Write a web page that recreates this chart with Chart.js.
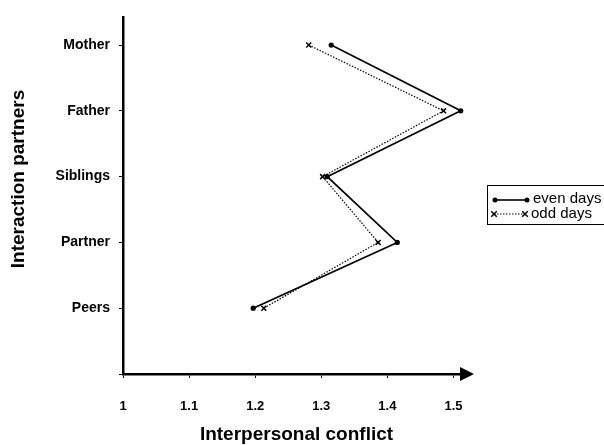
<!DOCTYPE html>
<html>
<head>
<meta charset="utf-8">
<script src="https://cdn.jsdelivr.net/npm/chart.js@4/dist/chart.umd.min.js"></script>
<style>
  html, body { margin: 0; padding: 0; background: #fff; }
  #wrap { width: 604px; height: 445px; }
</style>
</head>
<body>
<div id="wrap"><canvas id="conflictChart" width="604" height="445"></canvas></div>
<script>
// Data
const partners = ['Mother', 'Father', 'Siblings', 'Partner', 'Peers'];
const partnerPos = [5, 4, 3, 2, 1];
const evenDays = [1.315, 1.511, 1.309, 1.415, 1.197];
const oddDays = [1.281, 1.485, 1.302, 1.386, 1.213];
const xTicks = [1, 1.1, 1.2, 1.3, 1.4, 1.5];
const yTicks = [0, 1, 2, 3, 4, 5];

const FONT = '"Liberation Sans", Arial, sans-serif';

function toPoints(values) {
  return values.map((v, i) => ({ x: v, y: partnerPos[i] }));
}

// arrow head at right end of x axis
const arrowPlugin = {
  id: 'arrowHead',
  afterDraw(chart) {
    const ctx = chart.ctx;
    const area = chart.chartArea;
    ctx.save();
    ctx.fillStyle = '#000';
    ctx.beginPath();
    ctx.moveTo(area.right + 4, area.bottom);
    ctx.lineTo(area.right - 10, area.bottom - 7);
    ctx.lineTo(area.right - 10, area.bottom + 7);
    ctx.closePath();
    ctx.fill();
    ctx.restore();
  }
};

// y axis title, sits a bit above the middle of the axis
const yTitlePlugin = {
  id: 'yTitle',
  afterDraw(chart) {
    const ctx = chart.ctx;
    ctx.save();
    ctx.translate(19, 179);
    ctx.rotate(-Math.PI / 2);
    ctx.font = 'bold 19px ' + FONT;
    ctx.fillStyle = '#000';
    ctx.textAlign = 'center';
    ctx.textBaseline = 'middle';
    ctx.fillText('Interaction partners', 0, 0);
    ctx.restore();
  }
};

// legend box with line samples
const legendPlugin = {
  id: 'boxLegend',
  afterDraw(chart) {
    const ctx = chart.ctx;
    ctx.save();
    ctx.strokeStyle = '#000';
    ctx.lineWidth = 1;
    ctx.strokeRect(487.5, 185.5, 130, 39);
    ctx.font = '15px ' + FONT;
    ctx.fillStyle = '#000';
    ctx.textBaseline = 'middle';

    // even days
    ctx.lineWidth = 1.6;
    ctx.setLineDash([]);
    ctx.beginPath();
    ctx.moveTo(495, 200);
    ctx.lineTo(527, 200);
    ctx.stroke();
    [495, 527].forEach(x => {
      ctx.beginPath();
      ctx.arc(x, 200, 2.5, 0, Math.PI * 2);
      ctx.fill();
    });
    ctx.fillText('even days', 533, 199);

    // odd days
    ctx.lineWidth = 1;
    ctx.setLineDash([1.5, 1.5]);
    ctx.beginPath();
    ctx.moveTo(494, 214);
    ctx.lineTo(525, 214);
    ctx.stroke();
    ctx.setLineDash([]);
    ctx.lineWidth = 1.5;
    [494, 525].forEach(x => {
      ctx.beginPath();
      ctx.moveTo(x - 2.8, 211.2); ctx.lineTo(x + 2.8, 216.8);
      ctx.moveTo(x + 2.8, 211.2); ctx.lineTo(x - 2.8, 216.8);
      ctx.stroke();
    });
    ctx.fillText('odd days', 531, 214);
    ctx.restore();
  }
};

new Chart(document.getElementById('conflictChart'), {
  type: 'scatter',
  data: {
    datasets: [
      {
        label: 'even days',
        data: toPoints(evenDays),
        showLine: true,
        borderColor: '#000',
        backgroundColor: '#000',
        borderWidth: 1.7,
        pointStyle: 'circle',
        pointRadius: 2.6,
        pointBorderWidth: 0
      },
      {
        label: 'odd days',
        data: toPoints(oddDays),
        showLine: true,
        borderColor: '#000',
        backgroundColor: '#000',
        borderWidth: 1.2,
        borderDash: [1.5, 1.5],
        pointStyle: 'crossRot',
        pointRadius: 3.5,
        pointBorderWidth: 1.5
      }
    ]
  },
  options: {
    responsive: false,
    animation: false,
    clip: false,
    layout: { padding: { top: 15, right: 134, left: 0, bottom: 0 } },
    plugins: {
      legend: { display: false },
      tooltip: { enabled: false }
    },
    scales: {
      x: {
        type: 'linear',
        min: 1,
        max: 1.525,
        afterBuildTicks: scale => { scale.ticks = xTicks.map(v => ({ value: v })); },
        afterFit: scale => { scale.height = 71; },
        border: { display: true, color: '#000', width: 2.5 },
        grid: { drawOnChartArea: false, color: '#000', tickLength: 4, lineWidth: 1 },
        ticks: {
          color: '#000',
          padding: 21,
          maxRotation: 0,
          font: { family: FONT, size: 13, weight: 'bold' },
          callback: v => String(Math.round(v * 10) / 10)
        },
        title: {
          display: true,
          text: 'Interpersonal conflict',
          color: '#000',
          padding: { top: 0, bottom: 1 },
          font: { family: FONT, size: 19, weight: 'bold', lineHeight: 1 }
        }
      },
      y: {
        type: 'linear',
        min: 0,
        max: 5.42,
        afterBuildTicks: scale => { scale.ticks = yTicks.map(v => ({ value: v })); },
        afterFit: scale => { scale.width = 123; },
        border: { display: true, color: '#000', width: 2.5 },
        grid: { drawOnChartArea: false, color: '#000', tickLength: 4, lineWidth: 1 },
        ticks: {
          color: '#000',
          padding: 9,
          font: { family: FONT, size: 14, weight: 'bold' },
          callback: v => (v >= 1 ? partners[partnerPos.indexOf(v)] : '')
        },
        title: { display: false }
      }
    }
  },
  plugins: [arrowPlugin, yTitlePlugin, legendPlugin]
});
</script>
</body>
</html>
